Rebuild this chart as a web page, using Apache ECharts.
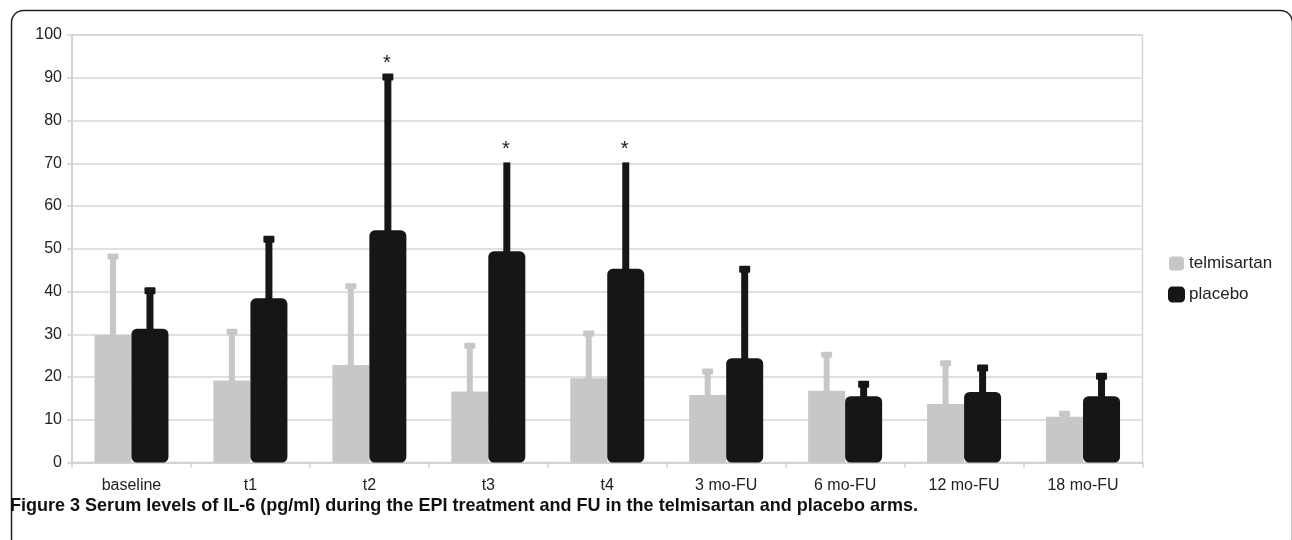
<!DOCTYPE html>
<html>
<head>
<meta charset="utf-8">
<script src="https://cdn.jsdelivr.net/npm/echarts@6/dist/echarts.min.js"></script>
<style>
html,body{margin:0;padding:0;background:#fff;}
#chart{width:1292px;height:540px;}
</style>
</head>
<body>
<div id="chart"></div>
<script>
const categories = ['baseline', 't1', 't2', 't3', 't4', '3 mo-FU', '6 mo-FU', '12 mo-FU', '18 mo-FU'];
const telmisartan = [29.8, 19.2, 22.8, 16.6, 19.7, 15.8, 16.8, 13.7, 10.7];
const telmisartanUpper = [48.2, 30.6, 41.2, 27.3, 30.2, 21.3, 25.2, 23.2, 11.4];
const placebo = [31.3, 38.4, 54.3, 49.4, 45.3, 24.4, 15.5, 16.5, 15.5];
const placeboUpper = [40.2, 52.2, 90.2, 70.2, 70.2, 45.2, 18.3, 22.1, 20.2];
const significance = ['', '', '*', '*', '*', '', '', '', ''];
const yTicks = [0, 100, 10];
const captionBold = 'Figure 3';
const captionText = ' Serum levels of IL-6 (pg/ml) during the EPI treatment and FU in the telmisartan and placebo arms.';

const GREY = '#c6c7c6';
const BLACK = '#161616';
const BAR_W = 37;
const TEXT = '#222222';
const FONT = "'Liberation Sans', Arial, sans-serif";
const PLACEBO_NO_CAP = [3, 4];

function fitFont(weight, family, target, text) {
  const c = document.createElement('canvas').getContext('2d');
  c.font = weight + ' 100px ' + family;
  const w = c.measureText(text).width;
  return 100 * target / w;
}
const capSize = fitFont('bold', FONT, 908, captionBold + captionText);

function errSeries(name, means, uppers, sign, lineW, capW, capH, color, stars, noCap) {
  return {
    type: 'custom',
    name: name,
    z: 1,
    data: categories.map((c, i) => [i, means[i], uppers[i]]),
    encode: {x: 0, y: 2},
    renderItem: function (params, api) {
      const i = api.value(0);
      const base = api.coord([i, api.value(1)]);
      const top = api.coord([i, api.value(2)]);
      const x = base[0] + sign * BAR_W / 2;
      const hasCap = !(noCap && noCap.indexOf(params.dataIndex) >= 0);
      const children = [
        {type: 'rect', shape: {x: x - lineW / 2, y: top[1], width: lineW, height: base[1] - top[1] + 2}, style: {fill: color}}
      ];
      if (hasCap) {
        children.push({type: 'rect', shape: {x: x - capW / 2, y: top[1] - capH / 2, width: capW, height: capH, r: 1}, style: {fill: color}});
      }
      if (stars && stars[params.dataIndex]) {
        children.push({type: 'text', style: {text: stars[params.dataIndex], x: x - 1, y: top[1] - 3,
          textAlign: 'center', textVerticalAlign: 'bottom', font: '20px ' + FONT, fill: TEXT}});
      }
      return {type: 'group', children: children};
    }
  };
}

const chart = echarts.init(document.getElementById('chart'), null, {renderer: 'canvas'});
chart.setOption({
  animation: false,
  backgroundColor: '#fff',
  grid: {left: 72, right: 149.5, top: 35, bottom: 77.5, show: true, borderColor: '#d6d6d6', borderWidth: 1.5},
  legend: {
    orient: 'vertical', left: 1163, top: 250, itemWidth: 15, itemHeight: 14, itemGap: 14,
    icon: 'roundRect',
    data: ['telmisartan', 'placebo'],
    textStyle: {fontFamily: FONT, fontSize: 17, color: TEXT}
  },
  xAxis: {
    type: 'category', data: categories, boundaryGap: true,
    axisLine: {lineStyle: {color: '#cfcfcf', width: 1.5}},
    axisTick: {show: true, length: 5, lineStyle: {color: '#cfcfcf', width: 1.5}},
    axisLabel: {fontFamily: FONT, fontSize: 16, color: TEXT, margin: 15}
  },
  yAxis: {
    type: 'value', min: yTicks[0], max: yTicks[1], interval: yTicks[2],
    axisLine: {show: true, lineStyle: {color: '#cfcfcf', width: 1.5}},
    axisTick: {show: true, length: 5, lineStyle: {color: '#cfcfcf', width: 1.5}},
    splitLine: {lineStyle: {color: '#d6d6d6', width: 1.5}},
    axisLabel: {fontFamily: FONT, fontSize: 16, color: TEXT, margin: 10}
  },
  series: [
    {type: 'bar', name: 'telmisartan', data: telmisartan, barWidth: BAR_W, barGap: '0%', z: 2,
      itemStyle: {color: GREY}},
    {type: 'bar', name: 'placebo', data: placebo, barWidth: BAR_W, barGap: '0%', z: 3,
      itemStyle: {color: BLACK, borderColor: BLACK, borderWidth: 3, borderRadius: 4}},
    errSeries('telmisartan-err', telmisartan, telmisartanUpper, -1, 6, 11, 6, GREY, null, null),
    errSeries('placebo-err', placebo, placeboUpper, 1, 7, 11, 7, BLACK, significance, PLACEBO_NO_CAP)
  ],
  graphic: [
    {type: 'rect', left: 9, top: 8, silent: true,
      shape: {width: 1281, height: 540, r: 12},
      style: {fill: 'none', stroke: '#222', lineWidth: 1.5}},
    {type: 'text', left: 10, top: 508 - capSize * 0.6,
      style: {
        text: '{b|' + captionBold + '}{n|' + captionText + '}',
        rich: {
          b: {font: 'bold ' + capSize.toFixed(2) + 'px ' + FONT, fill: '#111'},
          n: {font: 'bold ' + capSize.toFixed(2) + 'px ' + FONT, fill: '#111'}
        }
      }}
  ]
});
</script>
</body>
</html>
